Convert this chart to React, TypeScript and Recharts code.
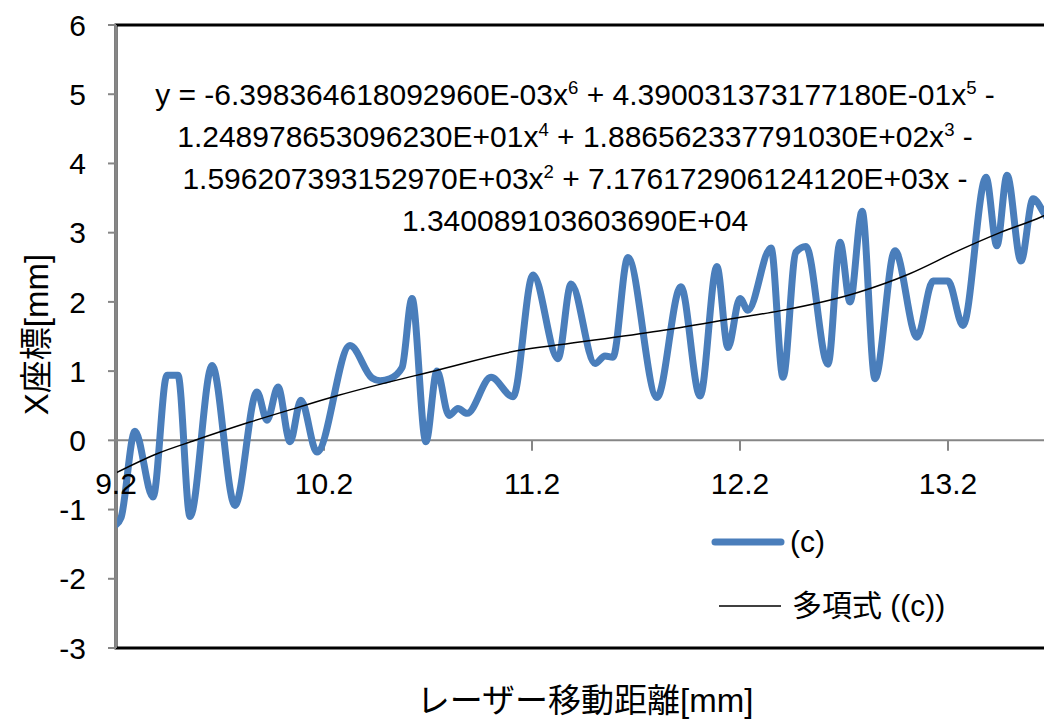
import React from 'react';
import { LineChart, Line, XAxis, YAxis, ReferenceLine, ReferenceArea, Legend, Label } from 'recharts';

const FONT = "'Liberation Sans', 'Noto Sans CJK JP', sans-serif";

// measured series "(c)" : laser travel distance [mm] vs X coordinate [mm]
const measuredX = [
  9.2, 9.224, 9.291, 9.378, 9.445, 9.498, 9.556, 9.662, 9.772, 9.878,
  9.926, 9.979, 10.037, 10.089, 10.166, 10.325, 10.431, 10.47, 10.517, 10.575,
  10.623, 10.69, 10.743, 10.801, 10.844, 10.888, 11.003, 11.109, 11.205, 11.325,
  11.388, 11.503, 11.551, 11.589, 11.661, 11.801, 11.916, 12.008, 12.089, 12.142,
  12.2, 12.238, 12.349, 12.407, 12.469, 12.517, 12.623, 12.681, 12.729, 12.787,
  12.849, 12.945, 13.051, 13.128, 13.2, 13.272, 13.383, 13.435, 13.484, 13.551,
  13.609, 13.662, 13.7,
];
const measuredY = [
  -1.22, -1.12, 0.13, -0.82, 0.94, 0.94, -1.1, 1.08, -0.94, 0.7,
  0.29, 0.77, -0.02, 0.58, -0.17, 1.37, 0.9, 0.86, 0.89, 1.05,
  2.05, -0.02, 1.0, 0.36, 0.46, 0.39, 0.91, 0.63, 2.39, 1.18,
  2.26, 1.11, 1.22, 1.2, 2.64, 0.62, 2.22, 0.64, 2.51, 1.34,
  2.05, 1.88, 2.78, 0.91, 2.72, 2.8, 1.1, 2.86, 2.0, 3.31,
  0.89, 2.74, 1.49, 2.3, 2.3, 1.66, 3.8, 2.81, 3.83, 2.59,
  3.49, 3.28, 3.1,
];

// polynomial trend line "多項式 ((c))"
const trendX = [9.2, 9.4, 9.58, 9.84, 10.08, 10.27, 10.74, 11.14, 11.33, 11.81, 12.19, 12.39, 12.77, 13.01, 13.25, 13.45, 13.65, 13.7];
const trendY = [-0.47, -0.19, 0.0, 0.26, 0.48, 0.65, 1.01, 1.3, 1.38, 1.58, 1.77, 1.87, 2.14, 2.4, 2.74, 3.0, 3.23, 3.3];

const xTicks = [9.2, 10.2, 11.2, 12.2, 13.2];
const yTicks = [-3, -2, -1, 0, 1, 2, 3, 4, 5, 6];
const xDomain = [9.2, 13.7];
const yDomain = [-3, 6];

const seriesName = '(c)';
const trendName = '多項式 ((c))';
const xTitle = 'レーザー移動距離[mm]';
const yTitle = 'X座標[mm]';

// equation text: even entries normal, odd entries superscript
const equationLines = [
  ['y = -6.398364618092960E-03x', '6', ' + 4.390031373177180E-01x', '5', ' -'],
  ['1.248978653096230E+01x', '4', ' + 1.886562337791030E+02x', '3', ' -'],
  ['1.596207393152970E+03x', '2', ' + 7.176172906124120E+03x -'],
  ['1.340089103603690E+04'],
];

const measured = measuredX.map((x, i) => ({ x, y: measuredY[i] }));
const trend = trendX.map((x, i) => ({ x, y: trendY[i] }));

const BLUE = '#4a7ebb';
const GRAY = '#868686';

const YTitle = (props: any) => {
  const vb = props.viewBox || { x: 0, y: 0, width: 0, height: 0 };
  const cx = vb.x + 36;
  const cy = vb.y + vb.height / 2 - 2;
  return (
    <text x={cx} y={cy} transform={`rotate(-90 ${cx} ${cy})`} textAnchor="middle" dominantBaseline="central"
      fontSize={33} fill="#000" fontFamily={FONT}>{yTitle}</text>
  );
};

const XTitle = (props: any) => {
  const vb = props.viewBox || { x: 0, y: 0, width: 0, height: 0 };
  return (
    <text x={vb.x + vb.width / 2 + 1} y={vb.y + 52} textAnchor="middle" dominantBaseline="central"
      fontSize={33} fill="#000" fontFamily={FONT}>{xTitle}</text>
  );
};

const renderLegend = (props: any) => {
  const payload = props.payload || [];
  return (
    <div style={{ fontFamily: FONT }}>
      {payload.map((entry: any, i: number) => {
        const isMain = entry.value === seriesName;
        return (
          <div key={i} style={{ display: 'flex', alignItems: 'center', height: 64 }}>
            <svg width={84} height={20} style={{ display: 'block' }}>
              {isMain ? (
                <line x1={9} y1={10} x2={75} y2={10} stroke={BLUE} strokeWidth={7} strokeLinecap="round" />
              ) : (
                <line x1={13} y1={10} x2={75} y2={10} stroke="#000" strokeWidth={1.5} />
              )}
            </svg>
            <span style={{ fontSize: 30, color: '#000', marginLeft: isMain ? 0 : 2, lineHeight: '30px' }}>{entry.value}</span>
          </div>
        );
      })}
    </div>
  );
};

export default function App() {
  return (
    <div style={{ position: 'relative', width: 1044, height: 723, overflow: 'hidden', background: '#fff', fontFamily: FONT }}>
      <style>{'body{margin:0;}'}</style>
      <LineChart width={1052} height={723} margin={{ top: 25, right: 0, bottom: 0, left: 0 }} style={{ fontFamily: FONT }}>
        <XAxis dataKey="x" type="number" domain={xDomain} ticks={[]} tick={false} axisLine={false} tickLine={false}
          height={75} allowDataOverflow>
          <Label content={XTitle} />
        </XAxis>
        <YAxis type="number" domain={yDomain} ticks={yTicks} interval={0} width={116} tickSize={8} tickMargin={22}
          axisLine={{ stroke: GRAY, strokeWidth: 2 }} tickLine={{ stroke: GRAY, strokeWidth: 2 }}
          tick={{ fontSize: 30, fill: '#000', fontFamily: FONT }}>
          <Label content={YTitle} />
        </YAxis>
        <ReferenceLine y={0} stroke={GRAY} strokeWidth={2} />
        {xTicks.map((t) => (
          <ReferenceLine key={t} segment={[{ x: t, y: 0 }, { x: t, y: -0.15 }]} stroke={GRAY} strokeWidth={2}
            label={{ value: String(t), position: 'bottom', offset: 22, fontSize: 30, fill: '#000', fontFamily: FONT }} />
        ))}
        <Line data={measured} dataKey="y" name={seriesName} type="monotone" stroke={BLUE} strokeWidth={7}
          strokeLinecap="round" strokeLinejoin="round" dot={false} activeDot={false} isAnimationActive={false} legendType="line" />
        <Line data={trend} dataKey="y" name={trendName} type="monotone" stroke="#000" strokeWidth={1.5}
          dot={false} activeDot={false} isAnimationActive={false} legendType="line" />
        <ReferenceArea x1={xDomain[0]} x2={xDomain[1]} y1={yDomain[0]} y2={yDomain[1]} fill="none" fillOpacity={0}
          stroke="#000" strokeWidth={3} />
        <Legend content={renderLegend} layout="vertical" align="center" verticalAlign="middle"
          wrapperStyle={{ left: 706, top: 510, width: 320 }} />
      </LineChart>
      <div style={{ position: 'absolute', left: 75, top: 74, width: 1000, textAlign: 'center', fontSize: 30,
        lineHeight: '42px', color: '#000', fontFamily: FONT, whiteSpace: 'nowrap', pointerEvents: 'none' }}>
        {equationLines.map((segs, i) => (
          <div key={i} style={{ height: 42 }}>
            {segs.map((s, j) => j % 2 === 1 ? (
              <span key={j} style={{ fontSize: '0.62em', position: 'relative', top: '-0.6em', lineHeight: 0 }}>{s}</span>
            ) : (
              <span key={j}>{s}</span>
            ))}
          </div>
        ))}
      </div>
    </div>
  );
}
